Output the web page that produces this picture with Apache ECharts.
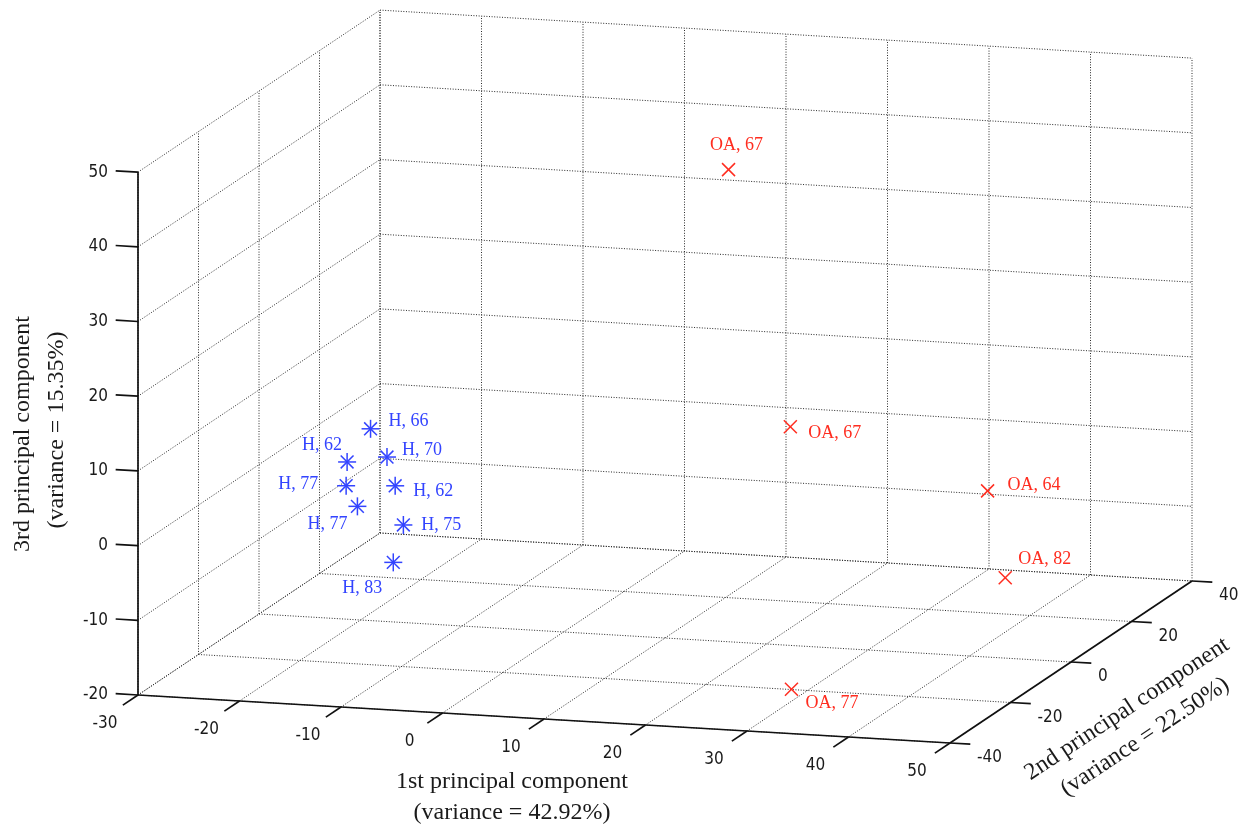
<!DOCTYPE html>
<html><head><meta charset="utf-8">
<script src="https://cdn.jsdelivr.net/npm/echarts@6/dist/echarts.min.js"></script>
<style>html,body{margin:0;padding:0;background:#fff}#c{width:1260px;height:834px}</style>
</head><body><div id="c"></div>
<script>
// ---------- data ----------
const hLabels = ['H, 66','H, 62','H, 70','H, 77','H, 62','H, 77','H, 75','H, 83'];
const hPC1 = [-20.5, -24.3, -15.9, -23.8, -14.2, -20.9, -12.2, -12.3];
const hPC2 = [5, 10, -5, 8, -8, 2, -12, -15];
const hPC3 = [4.2, -1.9, 3.5, -4.5, 0.6, -5.4, -3.4, -7.6];
const oaLabels = ['OA, 67','OA, 67','OA, 64','OA, 82','OA, 77'];
const oaPC1 = [10.3, 14.9, 38.8, 46.5, 31.4];
const oaPC2 = [20, 25, 10, -10, -30];
const oaPC3 = [37.3, 1.9, -0.7, -6.3, -17];
const xTicks = [-30, -20, -10, 0, 10, 20, 30, 40, 50];
const yTicks = [-40, -20, 0, 20, 40];
const zTicks = [-20, -10, 0, 10, 20, 30, 40, 50];
const xTitle = ['1st principal component', '(variance = 42.92%)'];
const yTitle = ['2nd principal component', '(variance = 22.50%)'];
const zTitle = ['3rd principal component', '(variance = 15.35%)'];

// ---------- layout / style ----------
const hLabelOffset = [[18,-8,'left'],[-5,-17,'right'],[15,-7,'left'],[-28,-1,'right'],[18,5,'left'],[-10,18,'right'],[18,0,'left'],[-31,26,'center']];
const oaLabelOffset = [[8,-24,'center'],[18,7,'left'],[20,-6,'left'],[13,-19,'left'],[14,14,'left']];
const BLUE = '#3344ff', RED = '#ff2d20';
const SERIF = '"Liberation Serif", "Times New Roman", serif';
const SANS = '"DejaVu Sans Condensed", "DejaVu Sans", sans-serif';

const xMin = xTicks[0], xMax = xTicks[xTicks.length-1];
const yMin = yTicks[0], yMax = yTicks[yTicks.length-1];
const zMin = zTicks[0], zMax = zTicks[zTicks.length-1];
// orthographic projection (view of the 3-D box)
const O = [138, 695];
const EX = [10.15, 0.6], EY = [3.025, -2.025], EZ = [0, -7.47];
function proj(x, y, z) {
  const u = x - xMin, v = y - yMin, w = z - zMin;
  return [O[0] + u*EX[0] + v*EY[0] + w*EZ[0], O[1] + u*EX[1] + v*EY[1] + w*EZ[1]];
}

// grid segments (floor, back wall, left wall)
const gridSegs = [];
yTicks.forEach(y => gridSegs.push([xMin,y,zMin, xMax,y,zMin]));
xTicks.forEach(x => gridSegs.push([x,yMin,zMin, x,yMax,zMin]));
zTicks.forEach(z => gridSegs.push([xMin,yMax,z, xMax,yMax,z]));
xTicks.forEach(x => gridSegs.push([x,yMax,zMin, x,yMax,zMax]));
zTicks.forEach(z => gridSegs.push([xMin,yMin,z, xMin,yMax,z]));
yTicks.forEach(y => gridSegs.push([xMin,y,zMin, xMin,y,zMax]));

// axis lines and ticks
const axisSegs = [
  [xMin,yMin,zMin, xMax,yMin,zMin],
  [xMax,yMin,zMin, xMax,yMax,zMin],
  [xMin,yMin,zMin, xMin,yMin,zMax]
];
xTicks.forEach(x => axisSegs.push([x,yMin,zMin, x,yMin-5,zMin]));
yTicks.forEach(y => axisSegs.push([xMax,y,zMin, xMax+2,y,zMin]));
zTicks.forEach(z => axisSegs.push([xMin,yMin,z, xMin-2.2,yMin,z]));

// tick label anchors: [x,y,z,kind]
const tickAnchors = [];
xTicks.forEach(x => tickAnchors.push([x,yMin,zMin,0]));
yTicks.forEach(y => tickAnchors.push([xMax,y,zMin,1]));
zTicks.forEach(z => tickAnchors.push([xMin,yMin,z,2]));

const hData = hPC1.map((v,i) => [v, hPC2[i], hPC3[i]]);
const oaData = oaPC1.map((v,i) => [v, oaPC2[i], oaPC3[i]]);

function segRender(color, dash, width) {
  return function(params, api) {
    const a = api.coord(proj(api.value(0), api.value(1), api.value(2)));
    const b = api.coord(proj(api.value(3), api.value(4), api.value(5)));
    return {type:'line', shape:{x1:a[0], y1:a[1], x2:b[0], y2:b[1]},
      style:{stroke:color, lineWidth:width, lineDash:dash}};
  };
}
function txt(x, y, text, color, size, family, align, valign) {
  return {type:'text', x:x, y:y, style:{text:text, fill:color, fontSize:size, fontFamily:family,
    align:align, textAlign:align, verticalAlign:valign, textVerticalAlign:valign}};
}

const chart = echarts.init(document.getElementById('c'), null, {renderer:'canvas'});
chart.setOption({
  animation: false,
  backgroundColor: '#fff',
  grid: {left:0, right:0, top:0, bottom:0},
  xAxis: {type:'value', min:0, max:1260, show:false},
  yAxis: {type:'value', min:0, max:834, inverse:true, show:false},
  series: [
    {type:'custom', name:'grid', silent:true, clip:false, data:gridSegs, renderItem: segRender('#2a2a2a',[1,1.6],1), z:1},
    {type:'custom', name:'axes', silent:true, clip:false, data:axisSegs, renderItem: segRender('#111111',null,1.7), z:2},
    {type:'custom', name:'ticklabels', silent:true, clip:false, data:tickAnchors, z:3,
      renderItem: function(params, api) {
        const kind = api.value(3);
        const p = api.coord(proj(api.value(0), api.value(1), api.value(2)));
        const val = String(api.value(kind));
        if (kind === 0) return txt(p[0]-33, p[1]+29, val, '#1a1a1a', 17, SANS, 'center', 'middle');
        if (kind === 1) return txt(p[0]+27, p[1]+15, val, '#1a1a1a', 17, SANS, 'left', 'middle');
        return txt(p[0]-30, p[1], val, '#1a1a1a', 17, SANS, 'right', 'middle');
      }},
    {type:'custom', name:'H', clip:false, data:hData, z:5,
      renderItem: function(params, api) {
        const p = api.coord(proj(api.value(0), api.value(1), api.value(2)));
        const r = 9, d = 6.4, i = params.dataIndex, off = hLabelOffset[i];
        const st = {stroke:BLUE, lineWidth:1.5};
        return {type:'group', children:[
          {type:'line', shape:{x1:p[0]-r,y1:p[1],x2:p[0]+r,y2:p[1]}, style:st},
          {type:'line', shape:{x1:p[0],y1:p[1]-r,x2:p[0],y2:p[1]+r}, style:st},
          {type:'line', shape:{x1:p[0]-d,y1:p[1]-d,x2:p[0]+d,y2:p[1]+d}, style:st},
          {type:'line', shape:{x1:p[0]-d,y1:p[1]+d,x2:p[0]+d,y2:p[1]-d}, style:st},
          txt(p[0]+off[0], p[1]+off[1], hLabels[i], BLUE, 18, SERIF, off[2], 'middle')
        ]};
      }},
    {type:'custom', name:'OA', clip:false, data:oaData, z:5,
      renderItem: function(params, api) {
        const p = api.coord(proj(api.value(0), api.value(1), api.value(2)));
        const d = 6.5, i = params.dataIndex, off = oaLabelOffset[i];
        const st = {stroke:RED, lineWidth:1.5};
        return {type:'group', children:[
          {type:'line', shape:{x1:p[0]-d,y1:p[1]-d,x2:p[0]+d,y2:p[1]+d}, style:st},
          {type:'line', shape:{x1:p[0]-d,y1:p[1]+d,x2:p[0]+d,y2:p[1]-d}, style:st},
          txt(p[0]+off[0], p[1]+off[1], oaLabels[i], RED, 18, SERIF, off[2], 'middle')
        ]};
      }}
  ],
  graphic: [
    {type:'text', x:512, y:782, style:{text:xTitle[0], fill:'#1a1a1a', fontSize:24, fontFamily:SERIF, align:'center', textAlign:'center', verticalAlign:'middle', textVerticalAlign:'middle'}},
    {type:'text', x:512, y:813, style:{text:xTitle[1], fill:'#1a1a1a', fontSize:24, fontFamily:SERIF, align:'center', textAlign:'center', verticalAlign:'middle', textVerticalAlign:'middle'}},
    {type:'text', x:23, y:434, rotation:Math.PI/2, style:{text:zTitle[0], fill:'#1a1a1a', fontSize:24, fontFamily:SERIF, align:'center', textAlign:'center', verticalAlign:'middle', textVerticalAlign:'middle'}},
    {type:'text', x:57, y:430, rotation:Math.PI/2, style:{text:zTitle[1], fill:'#1a1a1a', fontSize:24, fontFamily:SERIF, align:'center', textAlign:'center', verticalAlign:'middle', textVerticalAlign:'middle'}},
    {type:'text', x:1127, y:709, rotation:0.585, style:{text:yTitle[0], fill:'#1a1a1a', fontSize:24, fontFamily:SERIF, align:'center', textAlign:'center', verticalAlign:'middle', textVerticalAlign:'middle'}},
    {type:'text', x:1145, y:737, rotation:0.585, style:{text:yTitle[1], fill:'#1a1a1a', fontSize:24, fontFamily:SERIF, align:'center', textAlign:'center', verticalAlign:'middle', textVerticalAlign:'middle'}}
  ]
});
</script>
</body></html>
